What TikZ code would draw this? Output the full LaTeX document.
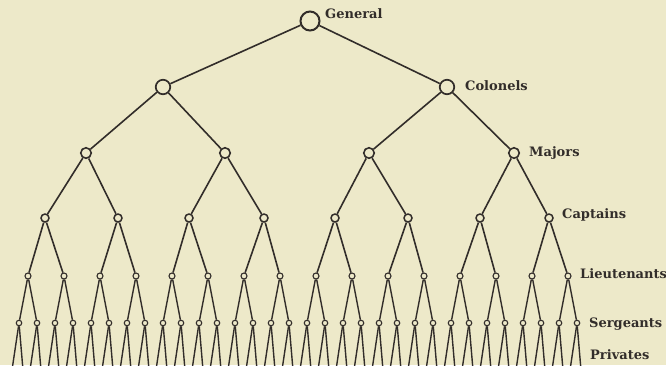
\documentclass[tikz,border=0pt]{standalone}
\usepackage{fontspec}
\setmainfont{DejaVu Serif}
\definecolor{bg}{RGB}{237,233,201}
\definecolor{ink}{RGB}{50,45,42}
\tikzset{
  rank/.style={circle, draw=ink, fill=bg, inner sep=0pt},
  genbox/.style={rank, minimum size=19pt, line width=2pt},
  colbox/.style={rank, minimum size=14.5pt, line width=1.7pt},
  majbox/.style={rank, minimum size=10.5pt, line width=1.6pt},
  capbox/.style={rank, minimum size=8pt, line width=1.5pt},
  liebox/.style={rank, minimum size=6pt, line width=1.1pt},
  serbox/.style={rank, minimum size=5.5pt, line width=1.1pt},
  link/.style={draw=ink, line width=1.6pt},
  thinlink/.style={draw=ink, line width=1.4pt},
  lbl/.style={anchor=base west, text=ink, inner sep=0pt, font=\bfseries\fontsize{13}{15}\selectfont}
}
\begin{document}
\begin{tikzpicture}[x=1pt,y=-1pt]
\fill[bg] (0,0) rectangle (666,365);
\useasboundingbox (0,0) rectangle (666,365);
\begin{scope}
\clip (0,0) rectangle (666,365);
% sergeants and privates
\foreach \i in {0,...,31} {
  \node[serbox] (s\i) at ({19+18*\i},323) {};
  \coordinate (pa\i) at ({19+18*\i-7},370);
  \coordinate (pb\i) at ({19+18*\i+4},370);
  \draw[thinlink] (s\i) -- (pa\i);
  \draw[thinlink] (s\i) -- (pb\i);
}
% lieutenants
\foreach \i [evaluate=\i as \a using int(2*\i), evaluate=\i as \b using int(2*\i+1)] in {0,...,15} {
  \node[liebox] (l\i) at ({28+36*\i},276) {};
  \draw[thinlink] (l\i) -- (s\a);
  \draw[thinlink] (l\i) -- (s\b);
}
% captains
\foreach \x [count=\c from 0, evaluate=\c as \a using int(2*\c), evaluate=\c as \b using int(2*\c+1)] in {45,118,189,264,335,408,480,549} {
  \node[capbox] (c\c) at (\x,218) {};
  \draw[link] (c\c) -- (l\a);
  \draw[link] (c\c) -- (l\b);
}
% majors
\foreach \x [count=\c from 0, evaluate=\c as \a using int(2*\c), evaluate=\c as \b using int(2*\c+1)] in {86,225,369,514} {
  \node[majbox] (m\c) at (\x,153) {};
  \draw[link] (m\c) -- (c\a);
  \draw[link] (m\c) -- (c\b);
}
% colonels
\foreach \x [count=\c from 0, evaluate=\c as \a using int(2*\c), evaluate=\c as \b using int(2*\c+1)] in {163,447} {
  \node[colbox] (k\c) at (\x,87) {};
  \draw[link] (k\c) -- (m\a);
  \draw[link] (k\c) -- (m\b);
}
% general
\node[genbox] (g) at (310,21) {};
\draw[link] (g) -- (k0);
\draw[link] (g) -- (k1);
\end{scope}
% labels
\node[lbl] (tg) at (325,18.5) {General};
\node[lbl] (tk) at (465,90.5) {Colonels};
\node[lbl] (tm) at (529,156.5) {Majors};
\node[lbl] (tc) at (562,218.5) {Captains};
\node[lbl] (tl) at (580,278.5) {Lieutenants};
\node[lbl] (ts) at (589,327.5) {Sergeants};
\node[lbl] (tp) at (590,359.5) {Privates};
\end{tikzpicture}
\end{document}
